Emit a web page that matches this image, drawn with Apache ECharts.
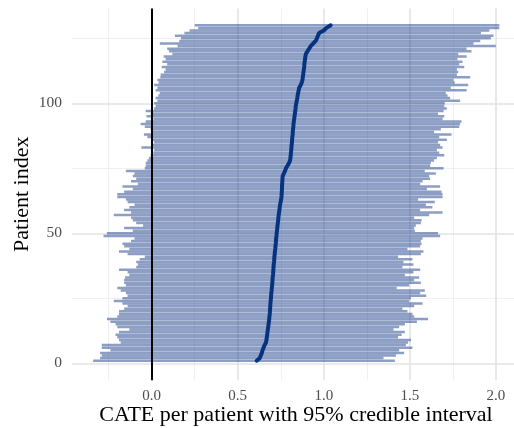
<!DOCTYPE html>
<html>
<head>
<meta charset="utf-8">
<script src="https://cdn.jsdelivr.net/npm/echarts@6/dist/echarts.min.js"></script>
<style>
html,body{margin:0;padding:0;background:#fff;}
#chart{width:514px;height:428px;}
</style>
</head>
<body>
<div id="chart"></div>
<script>
// Lower bounds of the 95% credible interval, patient index 1..130
const lower = [
-0.34,-0.30,-0.29,-0.30,-0.24,-0.29,-0.29,-0.18,-0.19,-0.20,
-0.21,-0.19,-0.13,-0.20,-0.21,-0.24,-0.26,-0.20,-0.19,-0.19,
-0.16,-0.14,-0.17,-0.22,-0.17,-0.14,-0.15,-0.18,-0.20,-0.15,
-0.16,-0.16,-0.155,-0.13,-0.14,-0.19,-0.09,-0.08,-0.09,-0.07,
-0.04,-0.14,-0.19,-0.13,-0.16,-0.17,-0.12,-0.10,-0.28,-0.26,
-0.11,-0.16,-0.05,-0.09,-0.11,-0.12,-0.22,-0.12,-0.16,-0.13,
-0.10,-0.14,-0.15,-0.20,-0.20,-0.16,-0.11,-0.17,-0.08,-0.12,
-0.09,-0.11,-0.10,-0.15,-0.04,-0.035,-0.035,-0.025,-0.016,-0.006,
0.01,0.014,-0.06,0.00,0.014,0.004,-0.025,-0.045,0.004,-0.006,
-0.04,-0.064,-0.035,0.01,-0.03,-0.006,-0.035,0.014,0.023,0.014,
0.033,0.023,0.039,0.047,0.023,0.033,0.014,0.04,0.033,0.05,
0.052,0.072,0.081,0.058,0.09,0.062,0.081,0.07,0.12,0.10,
0.09,0.15,0.047,0.16,0.17,0.135,0.19,0.22,0.27,0.25
];
// Upper bounds
const upper = [
1.413,1.347,1.419,1.467,1.438,1.515,1.477,1.490,1.506,1.432,
1.452,1.471,1.405,1.438,1.471,1.541,1.606,1.525,1.515,1.486,
1.457,1.525,1.574,1.496,1.506,1.595,1.560,1.587,1.424,1.496,
1.564,1.525,1.554,1.471,1.521,1.560,1.457,1.521,1.463,1.515,
1.432,1.564,1.579,1.486,1.560,1.568,1.564,1.574,1.676,1.664,
1.529,1.525,1.535,1.564,1.568,1.525,1.612,1.690,1.560,1.631,
1.593,1.645,1.548,1.690,1.690,1.684,1.599,1.676,1.560,1.574,
1.618,1.612,1.651,1.587,1.696,1.618,1.622,1.641,1.657,1.700,
1.671,1.657,1.690,1.676,1.664,1.715,1.671,1.742,1.641,1.680,
1.787,1.792,1.800,1.690,1.700,1.664,1.696,1.715,1.700,1.703,
1.792,1.734,1.719,1.709,1.830,1.738,1.839,1.761,1.754,1.851,
1.773,1.781,1.773,1.816,1.787,1.806,1.777,1.830,1.781,1.858,
1.830,1.999,1.870,1.909,1.971,1.986,1.913,1.962,2.020,2.020
];
// Posterior mean CATE per patient (sorted)
const cate = [
0.610,0.628,0.634,0.640,0.644,0.650,0.656,0.664,0.667,0.669,
0.671,0.673,0.675,0.677,0.679,0.681,0.683,0.684,0.686,0.687,
0.688,0.689,0.690,0.691,0.693,0.694,0.695,0.697,0.698,0.700,
0.701,0.702,0.703,0.705,0.706,0.707,0.708,0.709,0.711,0.712,
0.713,0.715,0.716,0.718,0.719,0.721,0.722,0.723,0.725,0.726,
0.728,0.730,0.731,0.733,0.735,0.736,0.738,0.740,0.742,0.744,
0.746,0.749,0.752,0.754,0.755,0.756,0.757,0.757,0.758,0.759,
0.760,0.761,0.768,0.775,0.780,0.789,0.798,0.804,0.806,0.808,
0.809,0.811,0.812,0.813,0.815,0.816,0.817,0.819,0.820,0.821,
0.823,0.824,0.826,0.828,0.830,0.832,0.834,0.836,0.837,0.840,
0.843,0.846,0.848,0.851,0.854,0.857,0.866,0.872,0.876,0.878,
0.880,0.882,0.884,0.886,0.887,0.889,0.891,0.893,0.896,0.905,
0.915,0.924,0.938,0.953,0.960,0.966,0.973,1.000,1.015,1.040
];
const xMajorTicks = [0.0, 0.5, 1.0, 1.5, 2.0];
const xMinorTicks = [-0.25, 0.25, 0.75, 1.25, 1.75];
const yMajorTicks = [0, 50, 100];
const yMinorTicks = [25, 75, 125];

const patientIndex = lower.map((_, i) => i + 1);
const intervalData = patientIndex.map((p, i) => [lower[i], upper[i], p]);
const cateData = patientIndex.map((p, i) => [cate[i], p]);

const FONT = '"Liberation Serif", "Times New Roman", serif';

const gridLines = [];
xMinorTicks.forEach(v => gridLines.push({xAxis: v, lineStyle: {color: '#f0f0f0', width: 1, type: 'solid'}}));
yMinorTicks.forEach(v => gridLines.push({yAxis: v, lineStyle: {color: '#f0f0f0', width: 1, type: 'solid'}}));
xMajorTicks.forEach(v => gridLines.push({xAxis: v, lineStyle: {color: '#e3e3e3', width: 1.6, type: 'solid'}}));
yMajorTicks.forEach(v => gridLines.push({yAxis: v, lineStyle: {color: '#e3e3e3', width: 1.6, type: 'solid'}}));

const chart = echarts.init(document.getElementById('chart'), null, {renderer: 'canvas'});
chart.setOption({
  animation: false,
  backgroundColor: '#ffffff',
  grid: {left: 72, right: -6, top: 8.4, bottom: 47.8, outerBoundsMode: 'none', containLabel: false},
  xAxis: {
    type: 'value', min: -0.463, max: 2.14,
    name: 'CATE per patient with 95% credible interval',
    nameLocation: 'middle', nameGap: 24, nameMoveOverlap: false,
    nameTextStyle: {fontFamily: FONT, fontSize: 22, color: '#000'},
    axisLine: {show: false}, axisTick: {show: false}, splitLine: {show: false},
    axisLabel: {customValues: xMajorTicks, fontFamily: FONT, fontSize: 15, color: '#4d4d4d', margin: 8,
      formatter: v => v.toFixed(1)}
  },
  yAxis: {
    type: 'value', min: -6.5, max: 136.5,
    name: 'Patient index',
    nameLocation: 'middle', nameGap: 39, nameRotate: 90, nameMoveOverlap: false,
    nameTextStyle: {fontFamily: FONT, fontSize: 22, color: '#000'},
    axisLine: {show: false}, axisTick: {show: false}, splitLine: {show: false},
    axisLabel: {customValues: yMajorTicks, fontFamily: FONT, fontSize: 15.5, color: '#4d4d4d', margin: 10}
  },
  series: [
    {
      type: 'line', data: [], z: 0, silent: true,
      markLine: {z: 0, silent: true, symbol: 'none', label: {show: false}, animation: false, data: gridLines}
    },
    {
      type: 'custom', z: 2, silent: true,
      data: intervalData,
      encode: {x: [0, 1], y: 2},
      renderItem: function (params, api) {
        const y = api.value(2);
        const p1 = api.coord([api.value(0), y]);
        const p2 = api.coord([api.value(1), y]);
        const h = 2.5;
        return {
          type: 'rect',
          shape: {x: p1[0], y: p1[1] - h / 2, width: p2[0] - p1[0], height: h},
          style: {fill: 'rgba(28,62,140,0.5)'}
        };
      }
    },
    {
      type: 'line', data: [], z: 3, silent: true,
      markLine: {z: 3, silent: true, symbol: 'none', label: {show: false}, animation: false,
        data: [{xAxis: 0, lineStyle: {color: '#000', width: 2, type: 'solid'}}]}
    },
    {
      type: 'line', z: 4, silent: true,
      data: cateData, showSymbol: false, symbol: 'none',
      lineStyle: {color: '#06337f', width: 4, cap: 'round', join: 'round'}
    }
  ]
});
</script>
</body>
</html>
